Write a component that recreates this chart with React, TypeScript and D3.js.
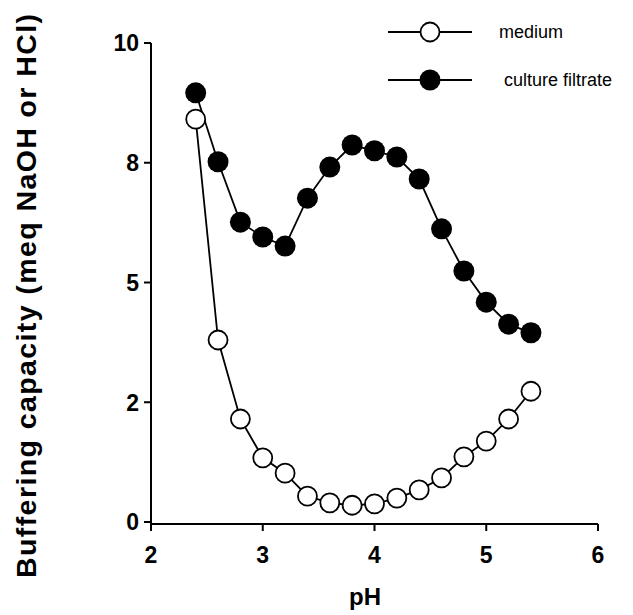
import React from 'react';
import * as d3 from 'd3';

// pH values shared by both series
const ph = [2.4, 2.6, 2.8, 3.0, 3.2, 3.4, 3.6, 3.8, 4.0, 4.2, 4.4, 4.6, 4.8, 5.0, 5.2, 5.4];

const medium = [8.41, 3.8, 2.15, 1.34, 1.02, 0.54, 0.4, 0.35, 0.38, 0.5, 0.67, 0.92, 1.36, 1.69, 2.15, 2.73];
const cultureFiltrate = [8.96, 7.52, 6.26, 5.95, 5.76, 6.76, 7.41, 7.87, 7.75, 7.62, 7.16, 6.12, 5.24, 4.59, 4.13, 3.95];

const xTicks = [2, 3, 4, 5, 6];
const yTicks = [0, 2.5, 5, 7.5, 10];
const yTickLabels = ['0', '2', '5', '8', '10'];

const font = "'Liberation Sans', Arial, Helvetica, sans-serif";

const App = () => {
  const width = 633;
  const height = 615;
  const margin = { top: 43, right: 35, bottom: 93, left: 151 };

  const x = d3.scaleLinear().domain([2, 6]).range([margin.left, width - margin.right]);
  const y = d3.scaleLinear().domain([0, 10]).range([height - margin.bottom, margin.top]);

  const line = d3.line<number>()
    .x((d, i) => x(ph[i]))
    .y(d => y(d));

  const xAxisY = y(0) + 2;

  return (
    <svg width={width} height={height} style={{ position: 'absolute', left: 0, top: 0, background: '#fff' }}>
      {/* axes */}
      <g stroke="#000" strokeWidth={2} fill="none">
        <line x1={x(2)} x2={x(2)} y1={y(10)} y2={xAxisY} />
        <line x1={x(2) - 1} x2={x(6)} y1={xAxisY} y2={xAxisY} />
        {yTicks.map(t => (
          <line key={'yt' + t} x1={x(2) - 7} x2={x(2)} y1={y(t)} y2={y(t)} />
        ))}
        {xTicks.map(t => (
          <line key={'xt' + t} x1={x(t)} x2={x(t)} y1={xAxisY} y2={xAxisY + 7} />
        ))}
      </g>
      <g fontFamily={font} fontWeight="bold" fontSize={23} fill="#000">
        {yTicks.map((t, i) => (
          <text key={'yl' + t} x={x(2) - 12} y={y(t)} dy="0.36em" textAnchor="end">{yTickLabels[i]}</text>
        ))}
        {xTicks.map(t => (
          <text key={'xl' + t} x={x(t)} y={563} textAnchor="middle">{t}</text>
        ))}
      </g>
      <text x={365} y={605} textAnchor="middle" fontFamily={font} fontWeight="bold" fontSize={24}>pH</text>
      <text
        transform="translate(36,296) rotate(-90)"
        textAnchor="middle"
        fontFamily={font}
        fontWeight="bold"
        fontSize={28.5}
        textLength={564}
      >
        Buffering capacity (meq NaOH or HCl)
      </text>

      {/* series */}
      <path d={line(medium) || ''} fill="none" stroke="#000" strokeWidth={1.8} />
      <path d={line(cultureFiltrate) || ''} fill="none" stroke="#000" strokeWidth={1.8} />
      {medium.map((v, i) => (
        <circle key={'m' + i} cx={x(ph[i])} cy={y(v)} r={9.5} fill="#fff" stroke="#000" strokeWidth={1.8} />
      ))}
      {cultureFiltrate.map((v, i) => (
        <circle key={'c' + i} cx={x(ph[i])} cy={y(v)} r={10.5} fill="#000" />
      ))}

      {/* legend */}
      <g fontFamily={font} fontSize={18}>
        <line x1={388} x2={472} y1={32} y2={32} stroke="#000" strokeWidth={1.8} />
        <circle cx={430} cy={32} r={9.5} fill="#fff" stroke="#000" strokeWidth={1.8} />
        <text x={499} y={38}>medium</text>
        <line x1={388} x2={472} y1={80} y2={80} stroke="#000" strokeWidth={1.8} />
        <circle cx={430} cy={80} r={10.5} fill="#000" />
        <text x={504} y={86}>culture filtrate</text>
      </g>
    </svg>
  );
};

export default App;
